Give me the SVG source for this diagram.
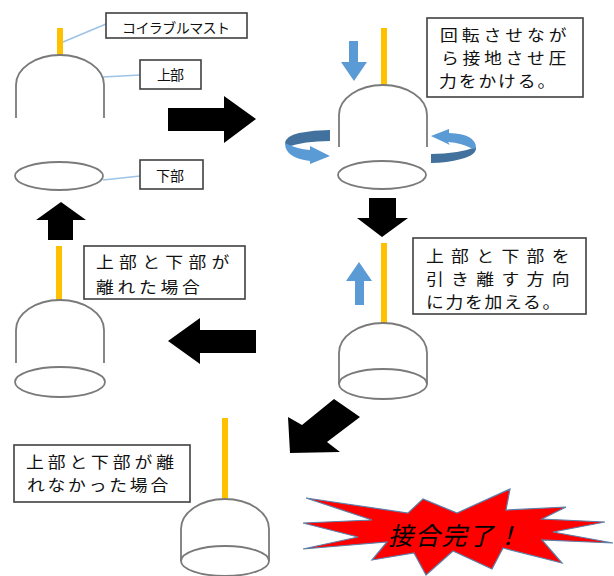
<svg xmlns="http://www.w3.org/2000/svg" width="614" height="576" viewBox="0 0 614 576">
<style>
.mast{fill:#ffc000}
.dome,.ell{fill:#fff;stroke:#7a7a7a;stroke-width:1.8}
.dome{fill:none}
.box{fill:#fff;stroke:#404040;stroke-width:1.6}
.lead{stroke:#9dc3e6;stroke-width:1.5;fill:none}
.big{fill:#000}
.blue{fill:#5b9bd5}
.dark{fill:#41719c}
text{font-family:"Noto Sans CJK JP","Noto Sans",sans-serif;fill:#111}
.s{font-size:14px}
.m{font-size:15.8px}
</style>
<defs>
<path id="shell" class="dome" d="M0 0A44 30 0 0 1 88 0"/>
</defs>
<rect width="614" height="576" fill="#fff"/>

<g id="connectors">
<path class="lead" d="M63 42L106 24"/>
<path class="lead" d="M103 77L140 75"/>
<path class="lead" d="M103 180L140 176"/>
<path id="arrow-right" class="big" d="M168 108H224V96L256 119L224 143V131H168Z"/>
<path id="arrow-down" class="big" d="M369 198H396V218H408L382 237L357 218H369Z"/>
<path id="arrow-left" class="big" d="M256 330H200V318L168 341L200 364V353H256Z"/>
<path id="arrow-up" class="big" d="M48 240V220H36L61 202L86 220H73V240Z"/>
<path id="arrow-diagonal" class="big" d="M334 399L360 417L327 442L340 452L290 453L288 417L302 425Z"/>
</g>

<g id="stage-start">
<rect class="mast" x="57" y="28" width="6" height="27"/>
<use href="#shell" x="16" y="85"/>
<path class="dome" d="M16 85V118M104 85V118"/>
<ellipse class="ell" cx="59" cy="176" rx="44" ry="14"/>
</g>
<g id="label-mast">
<rect class="box" x="106" y="13" width="141" height="25"/>
<text class="s" x="122" y="33" textLength="108">コイラブルマスト</text>
</g>
<g id="label-upper">
<rect class="box" x="140" y="60" width="61" height="29"/>
<text class="s" x="157" y="80" textLength="27">上部</text>
</g>
<g id="label-lower">
<rect class="box" x="140" y="160" width="63" height="29"/>
<text class="s" x="156" y="181" textLength="28">下部</text>
</g>

<g id="stage-press">
<rect class="mast" x="381" y="28" width="6" height="57"/>
<use href="#shell" x="339" y="115"/>
<path class="dome" d="M339 115V147M427 115V147"/>
<ellipse class="ell" cx="382" cy="175" rx="44" ry="14"/>
<path id="press-arrow" class="blue" d="M349 41H358V62H367L354 81L341 62H349Z"/>
<g id="spin-left">
<path class="dark" d="M330 130V141Q304 141 287 147L285 143Q286 136 299 133Q314 130 330 130Z"/>
<path class="blue" d="M285 143Q285 158 310 161V164L330 156L310 146V150Q297 149 285 143Z"/>
</g>
<g id="spin-right">
<path class="dark" d="M431 154Q458 154 476 147Q477 155 461 159Q447 163 431 163Z"/>
<path class="blue" d="M431 136L449 129V133Q476 134 476 148L473 149Q462 143 448 142L450 145Z"/>
</g>
</g>
<g id="note-press">
<rect class="box" x="427" y="18" width="156" height="79"/>
<text class="m" transform="translate(440 41) scale(1.13 1)" textLength="112">回転させなが</text>
<text class="m" transform="translate(441 64) scale(1.13 1)" textLength="111">ら接地させ圧</text>
<text class="m" transform="translate(439 87) scale(1.13 1)" textLength="103">力をかける。</text>
</g>

<g id="stage-pull">
<rect class="mast" x="381" y="243" width="6" height="80"/>
<use href="#shell" x="339" y="353"/>
<path class="dome" d="M339 353V384M427 353V384"/>
<ellipse class="dome" cx="383" cy="384" rx="44" ry="15"/>
<path id="pull-arrow" class="blue" d="M355 305V281H346L359 262L372 281H364V305Z"/>
</g>
<g id="note-pull">
<rect class="box" x="413" y="238" width="173" height="76"/>
<text class="m" transform="translate(426 262) scale(1.13 1)" textLength="127">上部と下部を</text>
<text class="m" transform="translate(426 285) scale(1.13 1)" textLength="127">引き離す方向</text>
<text class="m" transform="translate(426 308) scale(1.13 1)" textLength="119">に力を加える。</text>
</g>

<g id="stage-separated">
<rect class="mast" x="56" y="246" width="6" height="54"/>
<use href="#shell" x="16" y="330"/>
<path class="dome" d="M16 330V363M104 330V363"/>
<ellipse class="ell" cx="60" cy="382" rx="45" ry="15"/>
</g>
<g id="note-separated">
<rect class="box" x="84" y="246" width="161" height="53"/>
<text class="m" transform="translate(96 268) scale(1.13 1)" textLength="118">上部と下部が</text>
<text class="m" transform="translate(96 293) scale(1.13 1)" textLength="92">離れた場合</text>
</g>

<g id="stage-joined">
<rect class="mast" x="222" y="418" width="6" height="80"/>
<use href="#shell" x="181" y="529"/>
<path class="dome" d="M181 529V561M269 529V561"/>
<ellipse class="dome" cx="225" cy="561" rx="44" ry="15"/>
</g>
<g id="note-joined">
<rect class="box" x="14" y="445" width="176" height="57"/>
<text class="m" transform="translate(26 468) scale(1.13 1)" textLength="131">上部と下部が離</text>
<text class="m" transform="translate(27 491) scale(1.13 1)" textLength="125">れなかった場合</text>
</g>

<g id="burst">
<path fill="#f00" stroke="#5b7fa8" stroke-width="1.2" d="M306 498L408 513L423 499L457 513L510 489L506 510L566 507L542 519L605 522L553 532L613 543L542 540L562 563L503 548L492 569L453 551L426 575L414 553L372 560L387 542L303 549L358 537L303 523L372 520Z"/>
<text x="388" y="545" font-size="25" font-style="italic" textLength="132" style="fill:#000">接合完了！</text>
</g>
</svg>
